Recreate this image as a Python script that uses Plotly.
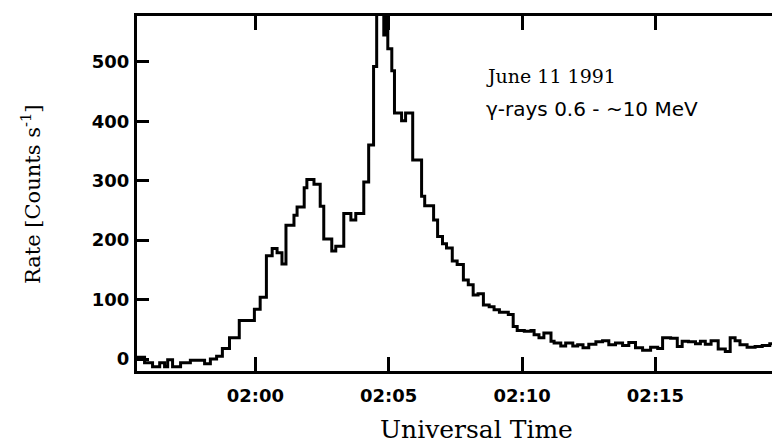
import plotly.graph_objects as go

# Step start times (UT, 11 June 1991) and count rates
step_time = [
    "01:55:34", "01:55:51", "01:56:09", "01:56:25", "01:56:36", "01:56:43", "01:56:54", "01:57:12",
    "01:57:34", "01:58:06", "01:58:19", "01:58:33", "01:58:46", "01:59:02", "01:59:24", "01:59:58",
    "02:00:11", "02:00:25", "02:00:38", "02:00:49", "02:01:00", "02:01:09", "02:01:27", "02:01:34",
    "02:01:50", "02:01:56", "02:02:12", "02:02:26", "02:02:34", "02:02:52", "02:03:01", "02:03:19",
    "02:03:35", "02:03:46", "02:04:04", "02:04:15", "02:04:26", "02:04:33", "02:04:49", "02:04:53",
    "02:04:58", "02:05:07", "02:05:13", "02:05:29", "02:05:38", "02:05:54", "02:06:14", "02:06:21",
    "02:06:41", "02:06:50", "02:07:01", "02:07:10", "02:07:23", "02:07:34", "02:07:48", "02:07:59",
    "02:08:10", "02:08:21", "02:08:33", "02:08:46", "02:08:57", "02:09:09", "02:09:29", "02:09:40",
    "02:09:49", "02:10:05", "02:10:20", "02:10:27", "02:10:38", "02:10:49", "02:11:05", "02:11:12",
    "02:11:27", "02:11:38", "02:11:54", "02:12:05", "02:12:17", "02:12:30", "02:12:46", "02:13:01",
    "02:13:15", "02:13:30", "02:13:46", "02:14:00", "02:14:15", "02:14:31", "02:14:49", "02:15:05",
    "02:15:16", "02:15:34", "02:15:49", "02:16:00", "02:16:14", "02:16:30", "02:16:41", "02:16:52",
    "02:17:05", "02:17:21", "02:17:37", "02:17:48", "02:17:59", "02:18:10", "02:18:26", "02:18:44",
    "02:19:00", "02:19:17", "02:19:33",
]
rate = [
    3, -6, -13, -6, -13, -1, -13, -6,
    -2, -8, 0, 5, 18, 36, 65, 84,
    104, 174, 186, 179, 160, 225, 242, 256,
    288, 302, 294, 257, 202, 182, 190, 245,
    234, 245, 298, 360, 492, 600, 545, 600,
    522, 485, 414, 401, 414, 335, 274, 258,
    234, 206, 194, 187, 165, 159, 133, 125,
    108, 110, 91, 88, 83, 79, 75, 55,
    48, 47, 48, 41, 36, 44, 30, 27,
    22, 27, 22, 24, 19, 25, 29, 31,
    24, 27, 23, 28, 19, 15, 20, 18,
    36, 35, 21, 30, 29, 26, 30, 25,
    31, 17, 13, 36, 31, 24, 20, 21,
    23, 26, 28,
]
end_time = "02:19:49"
start_time = "01:55:34"

y_ticks = [0, 100, 200, 300, 400, 500]
x_ticks = ["02:00:00", "02:05:00", "02:10:00", "02:15:00"]
x_tick_text = ["02:00", "02:05", "02:10", "02:15"]

day = "1991-06-11 "
xs = [day + t for t in step_time] + [day + end_time]
ys = rate + [rate[-1]]

fig = go.Figure()
fig.add_trace(go.Scatter(
    x=xs, y=ys, mode="lines", line=dict(color="black", width=3, shape="hv"),
    showlegend=False, hoverinfo="skip",
))

tickfont = dict(family="DejaVu Sans", size=18, color="black", weight="bold")
W0, H0 = 129, 8
PW, PH = 650, 355


def px(x):
    return (x - W0) / PW


def py(y):
    return (H0 + PH - y) / PH


fig.update_layout(
    width=780, height=445,
    margin=dict(l=129, r=1, t=8, b=82),
    paper_bgcolor="white", plot_bgcolor="white",
    xaxis=dict(
        type="date", range=[day + start_time, day + end_time],
        showgrid=False, zeroline=False,
        showline=True, linewidth=3, linecolor="black", mirror="ticks",
        ticks="inside", ticklen=14, tickwidth=2.5, tickcolor="black",
        tickvals=[day + t for t in x_ticks], ticktext=x_tick_text,
        tickfont=tickfont, ticklabelstandoff=6,
    ),
    yaxis=dict(
        range=[-20, 577],
        showgrid=False, zeroline=False,
        showline=True, linewidth=3, linecolor="black", mirror="ticks",
        ticks="inside", ticklen=12, tickwidth=2.5, tickcolor="black",
        tickvals=y_ticks, tickfont=tickfont, ticklabelstandoff=1,
    ),
    annotations=[
        dict(text="Rate [Counts s<sup>-1</sup>]", xref="paper", yref="paper",
             x=px(22), y=0.5, xanchor="center", yanchor="middle", textangle=-90,
             showarrow=False, font=dict(family="DejaVu Serif", size=21, color="black")),
        dict(text="Universal Time", xref="paper", yref="paper",
             x=px(470), y=py(421), xanchor="center", yanchor="middle",
             showarrow=False, font=dict(family="DejaVu Serif", size=25, color="black")),
        dict(text="June 11 1991", xref="paper", yref="paper",
             x=px(478), y=py(68), xanchor="left", yanchor="middle",
             showarrow=False, font=dict(family="DejaVu Serif", size=19, color="black")),
        dict(text="γ-rays 0.6 - ~10 MeV", xref="paper", yref="paper",
             x=px(478), y=py(101), xanchor="left", yanchor="middle",
             showarrow=False, font=dict(family="DejaVu Sans", size=20, color="black")),
    ],
)

fig.write_html("out.html")
